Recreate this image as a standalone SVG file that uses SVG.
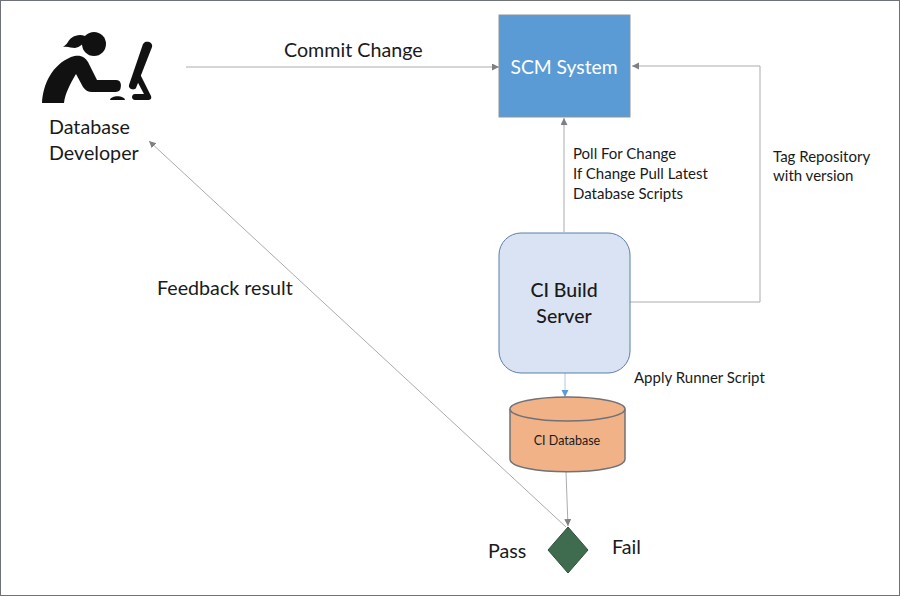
<svg xmlns="http://www.w3.org/2000/svg" width="900" height="596" viewBox="0 0 900 596">
<style>
text{font-family:"Lato","Open Sans",sans-serif;fill:#1a1a1a}
.c{fill:none;stroke:#a9abb0;stroke-width:1}
.l{font-size:19.7px}
.s{font-size:15px}
</style>
<defs>
<marker id="a" markerWidth="8" markerHeight="8" refX="7" refY="3.5" orient="auto" markerUnits="userSpaceOnUse"><path d="M0 0L7 3.5L0 7z" fill="#7f8085"/></marker>
<marker id="b" markerWidth="8" markerHeight="8" refX="7" refY="3.5" orient="auto" markerUnits="userSpaceOnUse"><path d="M0 0L7 3.5L0 7z" fill="#5b9bd5"/></marker>
</defs>
<rect width="900" height="596" fill="#fff"/>
<rect x="0.5" y="0.5" width="899" height="595" fill="none" stroke="#6f7276"/>
<g id="connectors">
<path class="c" d="M186 67H499" marker-end="url(#a)"/>
<path class="c" d="M564 232V118" marker-end="url(#a)"/>
<path class="c" d="M630 302H760V66H632" marker-end="url(#a)"/>
<path d="M565 373V397" fill="none" stroke="#b4c7e0" marker-end="url(#b)"/>
<path class="c" d="M566 472L568 526" marker-end="url(#a)"/>
<path class="c" d="M566 527L149 141" marker-end="url(#a)"/>
</g>
<g id="developer">
<circle cx="94" cy="44" r="12" fill="#111"/>
<path d="M85 36C77 33 70 38 68 42C66 45 64 46 63 47C68 46 71 48 75 48C80 47 83 44 85 41z" fill="#111"/>
<path d="M42 103C43 84 52 65 71 57C80 54 85 57 88 62L97 80H116C121 80 122 85 120 90C118 92 116 92 114 92H92C88 92 85 90 83 87L76 74C70 84 65 94 64 103z" fill="#111"/>
<path d="M110 100C111 95 124 95 125 100z" fill="#111"/>
<path d="M145 42C149 41 153 43 152 47L136 88C134 91 128 89 129 85L143 44z" fill="#111"/>
<path d="M139 72L151 96C152 99 150 100 148 100H135C131 100 131 94 135 94H144L136 79z" fill="#111"/>
<text class="l" x="49" y="134">Database</text>
<text class="l" x="49" y="160">Developer</text>
</g>
<text class="l" x="284" y="57">Commit Change</text>
<g id="scm">
<rect x="499" y="15" width="131" height="102" fill="#5b9bd5" stroke="#8f9398"/>
<text x="564" y="73.5" text-anchor="middle" font-size="19.3" style="fill:#fff">SCM System</text>
</g>
<g id="ci-build">
<rect x="499" y="233" width="131" height="140" rx="22" fill="#dae3f3" stroke="#5b7fa6"/>
<text x="564" y="297" text-anchor="middle" font-size="19.5" font-weight="500">CI Build</text>
<text x="564" y="323" text-anchor="middle" font-size="19.5" font-weight="500">Server</text>
</g>
<g id="ci-db">
<path d="M510 409V459C510 476 625 476 625 459V409" fill="#f1b287" stroke="#6f7276" stroke-width="1.5"/>
<ellipse cx="567.5" cy="409" rx="57.5" ry="12" fill="#f1b287" stroke="#6f7276" stroke-width="1.5"/>
<text x="567" y="445" text-anchor="middle" font-size="12.5">CI Database</text>
</g>
<g id="decision">
<path d="M568 527L588 550L568 573L548 550z" fill="#3f6b4f" stroke="#2f4f3b"/>
</g>
<g id="labels">
<text class="s" x="573" y="158.5">Poll For Change</text>
<text class="s" x="573" y="178.5">If Change Pull Latest</text>
<text class="s" x="573" y="198.5">Database Scripts</text>
<text class="s" x="773" y="161.5">Tag Repository</text>
<text class="s" x="773" y="180.5">with version</text>
<text class="s" x="634" y="382.5">Apply Runner Script</text>
<text class="l" x="157" y="295">Feedback result</text>
<text class="l" x="488" y="557.5">Pass</text>
<text class="l" x="612" y="553.5">Fail</text>
</g>
</svg>
